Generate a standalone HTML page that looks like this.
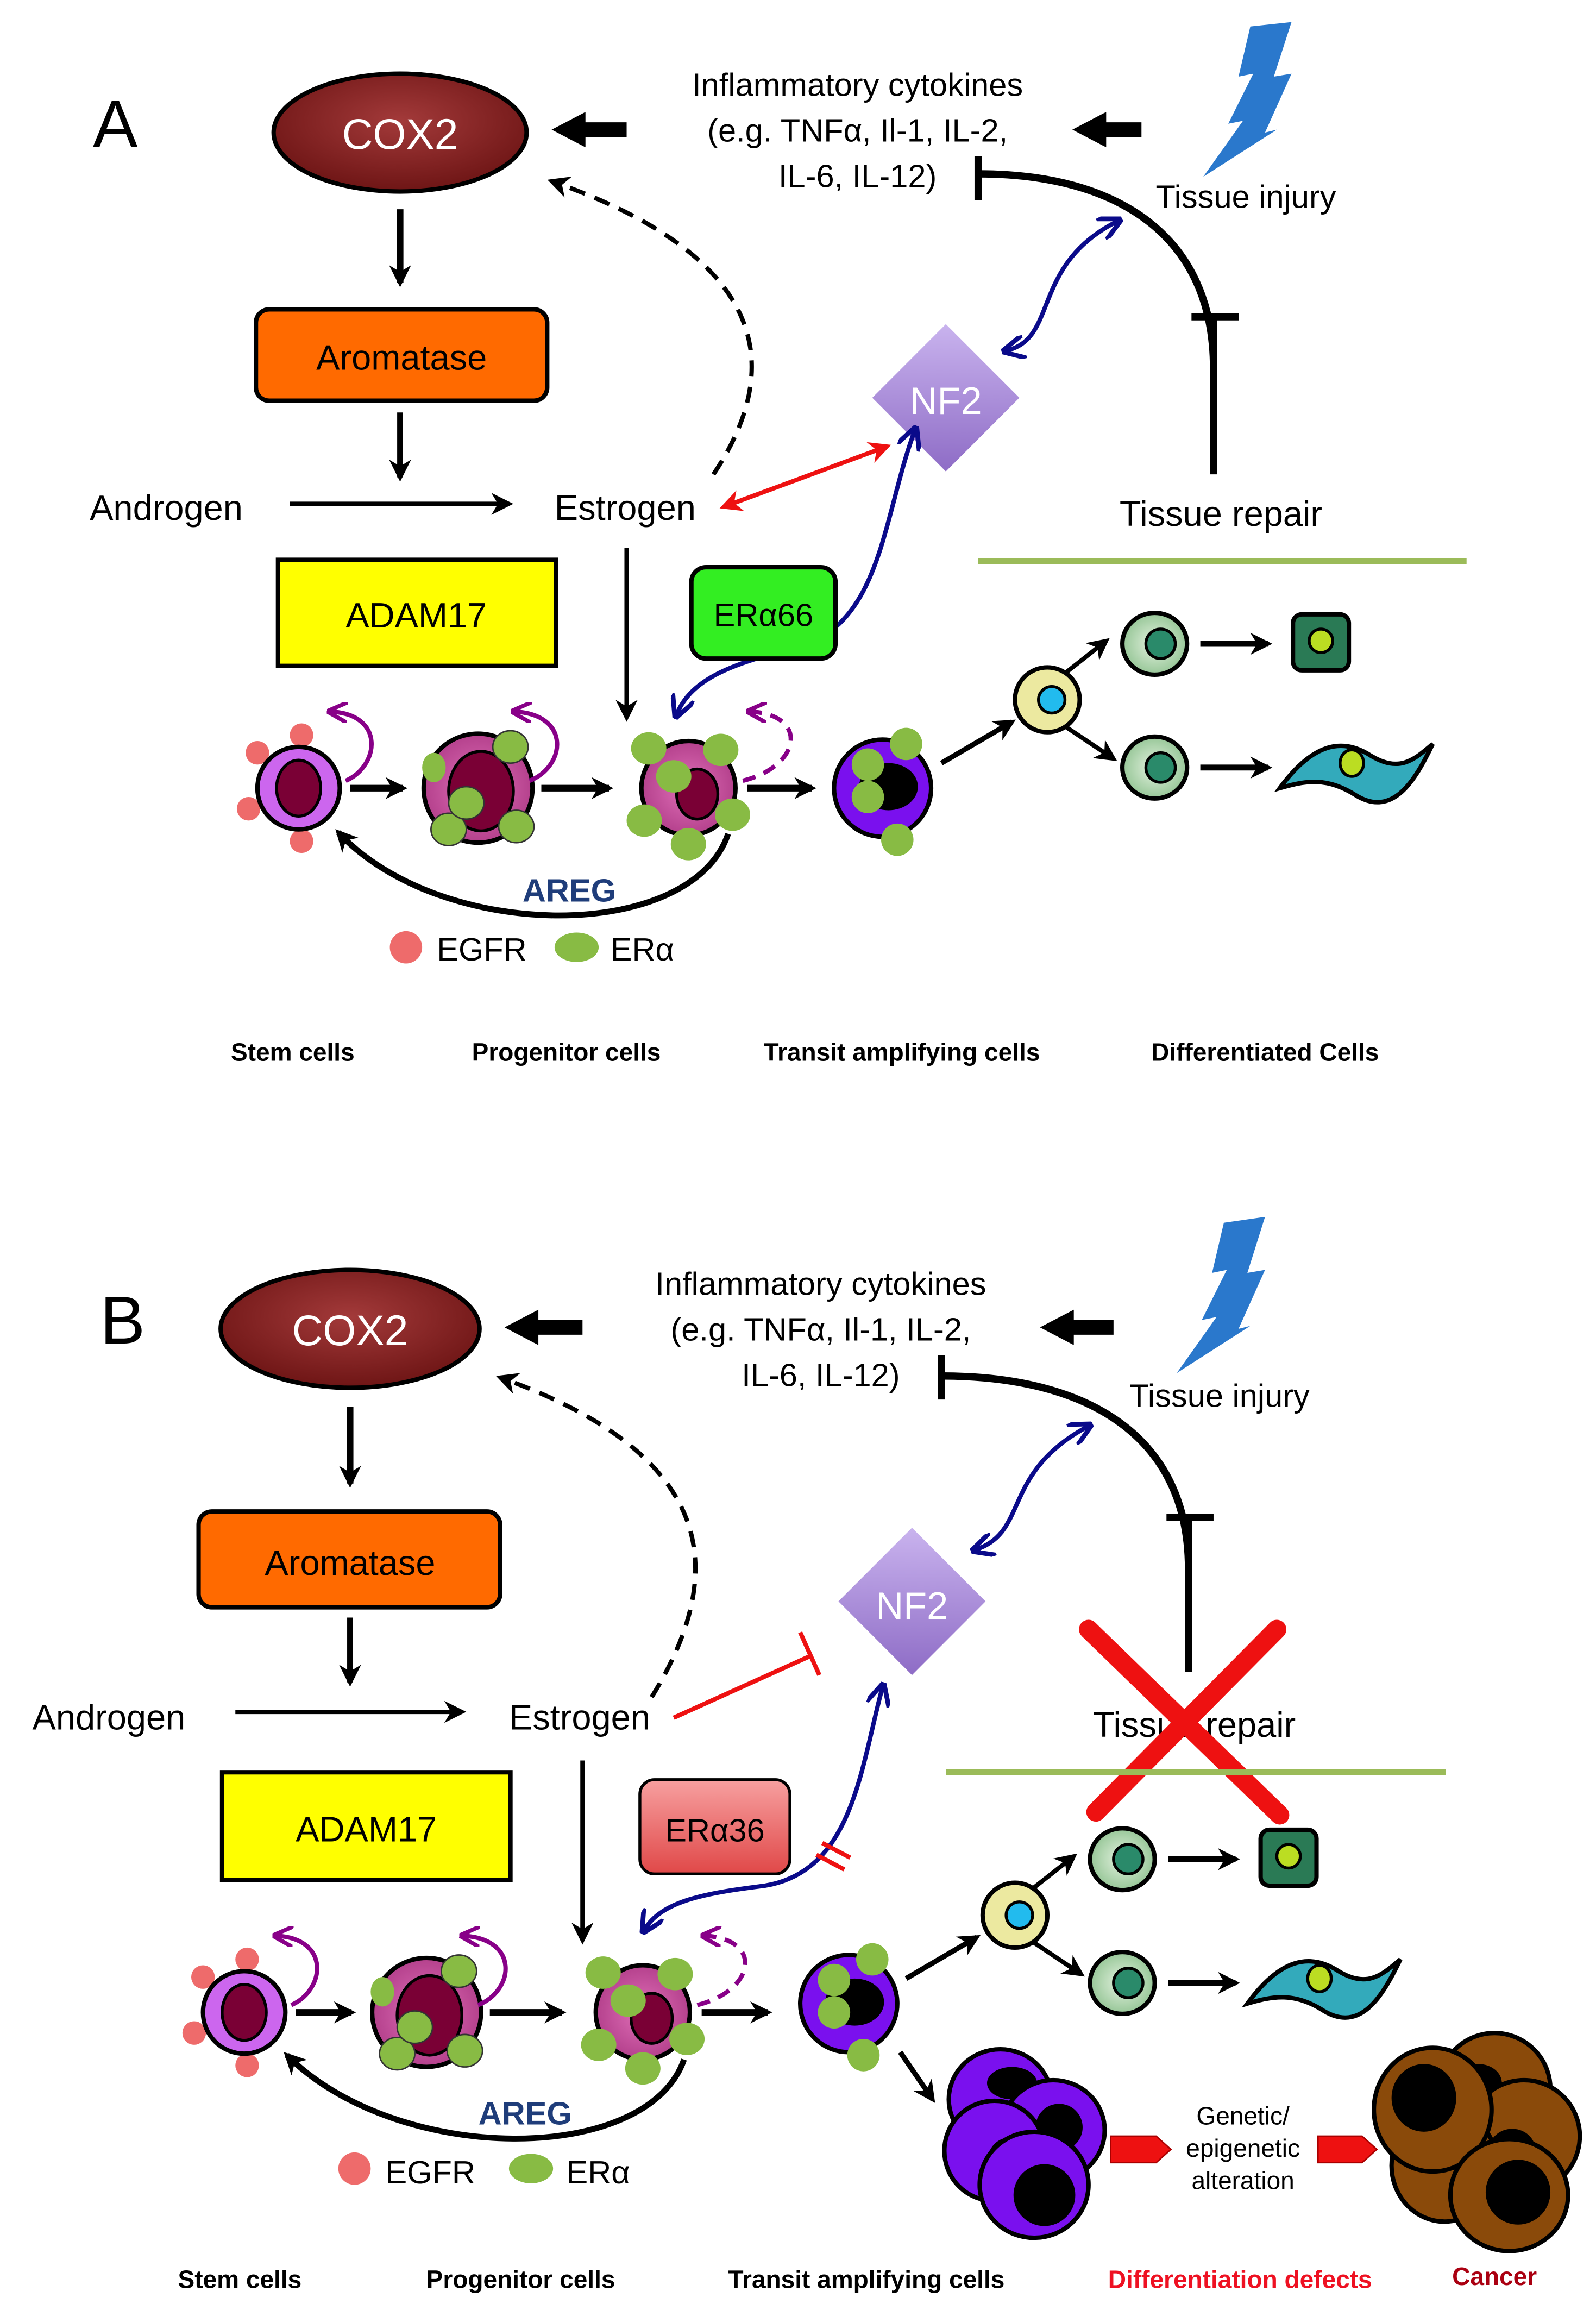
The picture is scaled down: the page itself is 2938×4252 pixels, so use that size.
<!DOCTYPE html>
<html><head><meta charset="utf-8">
<style>
html,body{margin:0;padding:0;background:#fff;}
svg{display:block;}
text{font-family:"Liberation Sans Narrow","Liberation Sans",sans-serif;}
</style></head><body>
<svg width="2938" height="4252" viewBox="0 0 1085 1568" preserveAspectRatio="none" xmlns="http://www.w3.org/2000/svg">
<defs>
<radialGradient id="gcox" cx="50%" cy="40%" r="60%"><stop offset="0" stop-color="#a33a3a"/><stop offset="1" stop-color="#6e1515"/></radialGradient>
<linearGradient id="gnf" x1="0" y1="0" x2="0" y2="1"><stop offset="0" stop-color="#c9b3ee"/><stop offset="1" stop-color="#8e6cc6"/></linearGradient>
<linearGradient id="g36" x1="0" y1="0" x2="0" y2="1"><stop offset="0" stop-color="#f7a0a0"/><stop offset="1" stop-color="#e04848"/></linearGradient>
<radialGradient id="gpink" cx="50%" cy="50%" r="55%"><stop offset="0" stop-color="#e070b8"/><stop offset="1" stop-color="#b03c88"/></radialGradient>
<radialGradient id="gmint" cx="50%" cy="50%" r="55%"><stop offset="0" stop-color="#e4f2e0"/><stop offset="1" stop-color="#8fc290"/></radialGradient>
<marker id="ab" viewBox="0 0 10 10" refX="8" refY="5" markerWidth="15" markerHeight="15" markerUnits="userSpaceOnUse" orient="auto-start-reverse"><path d="M0,0 L10,5 L0,10 L3,5z" fill="#000"/></marker>
<marker id="abl" viewBox="0 0 10 10" refX="8" refY="5" markerWidth="16" markerHeight="16" markerUnits="userSpaceOnUse" orient="auto-start-reverse"><path d="M0,0 L10,5 L0,10" fill="none" stroke="#0a0a8a" stroke-width="2"/></marker>
<marker id="ar" viewBox="0 0 10 10" refX="8" refY="5" markerWidth="15" markerHeight="15" markerUnits="userSpaceOnUse" orient="auto-start-reverse"><path d="M0,0 L10,5 L0,10 L3,5z" fill="#ee1111"/></marker>
<marker id="ap" viewBox="0 0 10 10" refX="8" refY="5" markerWidth="14" markerHeight="14" markerUnits="userSpaceOnUse" orient="auto-start-reverse"><path d="M0,0 L10,5 L0,10" fill="none" stroke="#880088" stroke-width="2"/></marker>

<g id="stem">
 <circle cx="2" cy="-36" r="8" fill="#ee6b6b"/><circle cx="-28" cy="-24" r="8" fill="#ee6b6b"/>
 <circle cx="-34" cy="14" r="8" fill="#ee6b6b"/><circle cx="2" cy="36" r="8" fill="#ee6b6b"/>
 <circle r="28" fill="#cc66ee" stroke="#000" stroke-width="3"/>
 <ellipse rx="15" ry="19" fill="#7a0035" stroke="#000" stroke-width="2"/>
</g>
<g id="prog">
 <circle r="37" fill="url(#gpink)" stroke="#000" stroke-width="3"/>
 <ellipse cx="2" cy="2" rx="22" ry="27" fill="#7a0035" stroke="#000" stroke-width="2"/>
 <ellipse cx="-30" cy="-14" rx="8" ry="10" fill="#88bb44"/>
 <ellipse cx="22" cy="-28" rx="12" ry="11" fill="#88bb44" stroke="#333" stroke-width="1"/>
 <ellipse cx="-20" cy="28" rx="12" ry="11" fill="#88bb44" stroke="#333" stroke-width="1"/>
 <ellipse cx="26" cy="26" rx="12" ry="11" fill="#88bb44" stroke="#333" stroke-width="1"/>
 <ellipse cx="-8" cy="10" rx="12" ry="11" fill="#88bb44" stroke="#333" stroke-width="1"/>
</g>
<g id="ta">
 <circle r="32" fill="url(#gpink)" stroke="#000" stroke-width="3"/>
 <ellipse cx="6" cy="4" rx="14" ry="17" fill="#7a0035" stroke="#000" stroke-width="2"/>
 <ellipse cx="-27" cy="-27" rx="12" ry="11" fill="#88bb44"/><ellipse cx="22" cy="-26" rx="12" ry="11" fill="#88bb44"/>
 <ellipse cx="-30" cy="22" rx="12" ry="11" fill="#88bb44"/><ellipse cx="30" cy="18" rx="12" ry="11" fill="#88bb44"/>
 <ellipse cx="0" cy="38" rx="12" ry="11" fill="#88bb44"/><ellipse cx="-10" cy="-8" rx="12" ry="11" fill="#88bb44"/>
</g>
<g id="purp">
 <circle r="33" fill="#7a10ee" stroke="#000" stroke-width="3"/>
 <ellipse cx="4" cy="-1" rx="20" ry="16" fill="#000"/>
 <ellipse cx="-10" cy="-16" rx="11" ry="11" fill="#88bb44"/><ellipse cx="16" cy="-30" rx="11" ry="11" fill="#88bb44"/>
 <ellipse cx="-10" cy="6" rx="11" ry="11" fill="#88bb44"/><ellipse cx="10" cy="35" rx="11" ry="11" fill="#88bb44"/>
</g>
<g id="diff">
 <circle cx="0" cy="0" r="22" fill="#ece9a0" stroke="#000" stroke-width="3"/>
 <circle cx="3" cy="0" r="9" fill="#22bbee" stroke="#000" stroke-width="2"/>
 <path d="M12,-18 L40,-40" stroke="#000" stroke-width="3" marker-end="url(#ab)"/>
 <path d="M12,18 L45,40" stroke="#000" stroke-width="3" marker-end="url(#ab)"/>
 <ellipse cx="73" cy="-38" rx="22" ry="21" fill="url(#gmint)" stroke="#000" stroke-width="3"/>
 <circle cx="77" cy="-38" r="10" fill="#2a8a6a" stroke="#000" stroke-width="2"/>
 <ellipse cx="73" cy="46" rx="22" ry="21" fill="url(#gmint)" stroke="#000" stroke-width="3"/>
 <circle cx="77" cy="46" r="10" fill="#2a8a6a" stroke="#000" stroke-width="2"/>
 <path d="M104,-38 L150,-38" stroke="#000" stroke-width="4" marker-end="url(#ab)"/>
 <path d="M104,46 L150,46" stroke="#000" stroke-width="4" marker-end="url(#ab)"/>
 <rect x="167" y="-58" width="38" height="38" rx="6" fill="#2a7a55" stroke="#000" stroke-width="3"/>
 <circle cx="186" cy="-40" r="8" fill="#bbdd22" stroke="#000" stroke-width="2"/>
 <path d="M158,60 C180,30 200,25 220,38 C240,50 250,40 262,30 C250,55 235,80 210,65 C190,52 175,55 158,60z" fill="#33aabb" stroke="#000" stroke-width="3"/>
 <ellipse cx="207" cy="43" rx="8" ry="9" fill="#bbdd22" stroke="#000" stroke-width="2"/>
</g>
</defs>

<rect width="1085" height="1568" fill="#fff"/>

<!-- ============ PANEL A ============ -->
<text x="63" y="100" font-size="46">A</text>
<ellipse cx="272" cy="90" rx="86" ry="40" fill="url(#gcox)" stroke="#000" stroke-width="3"/>
<text x="272" y="101" font-size="29" fill="#fff" text-anchor="middle">COX2</text>
<path d="M398,83 L426,83 L426,93 L398,93 L398,100 L375,88 L398,76z" fill="#000"/>
<text x="583" y="65" font-size="22" text-anchor="middle">Inflammatory cytokines</text>
<text x="583" y="96" font-size="22" text-anchor="middle">(e.g. TNFα, Il-1, IL-2,</text>
<text x="583" y="127" font-size="22" text-anchor="middle">IL-6, IL-12)</text>
<path d="M752,83 L776,83 L776,93 L752,93 L752,100 L729,88 L752,76z" fill="#000"/>
<path d="M850,18 L878,15 L866,52 L878,50 L860,90 L868,88 L818,120 L845,82 L835,84 L852,50 L842,52z" fill="#2a78cc"/>
<text x="847" y="141" font-size="22" text-anchor="middle">Tissue injury</text>
<path d="M665,118 C760,118 825,160 825,250 L825,322" fill="none" stroke="#000" stroke-width="5"/>
<path d="M665,106 L665,136" stroke="#000" stroke-width="5"/>
<path d="M810,215 L842,215" stroke="#000" stroke-width="5"/>
<path d="M825,215 L825,250" stroke="#000" stroke-width="5"/>
<text x="830" y="357" font-size="24" text-anchor="middle">Tissue repair</text>
<path d="M485,322 C540,240 510,170 375,123" fill="none" stroke="#000" stroke-width="3" stroke-dasharray="11,7" marker-end="url(#ab)"/>
<path d="M272,142 L272,192" stroke="#000" stroke-width="4.5" marker-end="url(#ab)"/>
<rect x="174" y="210" width="198" height="62" rx="9" fill="#ff6a00" stroke="#000" stroke-width="3"/>
<text x="273" y="251" font-size="24" text-anchor="middle">Aromatase</text>
<path d="M272,280 L272,324" stroke="#000" stroke-width="4" marker-end="url(#ab)"/>
<text x="113" y="353" font-size="24" text-anchor="middle">Androgen</text>
<path d="M197,342 L346,342" stroke="#000" stroke-width="3" marker-end="url(#ab)"/>
<text x="425" y="353" font-size="24" text-anchor="middle">Estrogen</text>
<path d="M492,344 L603,303" stroke="#ee1111" stroke-width="3" marker-end="url(#ar)" marker-start="url(#ar)"/>
<path d="M643,220 L693,270 L643,320 L593,270z" fill="url(#gnf)"/>
<text x="643" y="281" font-size="26" fill="#fff" text-anchor="middle">NF2</text>
<path d="M684,238 C720,230 700,180 760,150" fill="none" stroke="#0a0a8a" stroke-width="3" marker-start="url(#abl)" marker-end="url(#abl)"/>
<path d="M460,485 C470,460 500,450 540,440 C600,425 600,350 622,292" fill="none" stroke="#0a0a8a" stroke-width="3" marker-start="url(#abl)" marker-end="url(#abl)"/>
<path d="M665,381 L997,381" stroke="#9bbb59" stroke-width="4"/>
<rect x="189" y="380" width="189" height="72" fill="#ffff00" stroke="#000" stroke-width="3"/>
<text x="283" y="426" font-size="24" text-anchor="middle">ADAM17</text>
<rect x="470" y="385" width="98" height="62" rx="10" fill="#33ee22" stroke="#000" stroke-width="3"/>
<text x="519" y="425" font-size="22" text-anchor="middle" font-family="Liberation Serif,serif">ERα66</text>
<path d="M426,372 L426,487" stroke="#000" stroke-width="3" marker-end="url(#ab)"/>
<use href="#stem" x="203" y="535"/>
<use href="#prog" x="325" y="535"/>
<use href="#ta" x="468" y="535"/>
<use href="#purp" x="600" y="535"/>
<use href="#diff" x="712" y="475"/>
<path d="M640,518 L688,490" stroke="#000" stroke-width="3.5" marker-end="url(#ab)"/>
<path d="M238,535 L274,535" stroke="#000" stroke-width="4.5" marker-end="url(#ab)"/>
<path d="M368,535 L414,535" stroke="#000" stroke-width="4.5" marker-end="url(#ab)"/>
<path d="M508,535 L552,535" stroke="#000" stroke-width="4.5" marker-end="url(#ab)"/>
<path d="M235,530 C258,520 262,485 225,483" fill="none" stroke="#880088" stroke-width="3" marker-end="url(#ap)"/>
<path d="M360,530 C385,520 388,485 350,483" fill="none" stroke="#880088" stroke-width="3" marker-end="url(#ap)"/>
<path d="M505,530 C545,520 550,485 510,483" fill="none" stroke="#880088" stroke-width="3" stroke-dasharray="9,6" marker-end="url(#ap)"/>
<path d="M495,566 C470,640 300,640 230,565" fill="none" stroke="#000" stroke-width="4" marker-end="url(#ab)"/>
<text x="387" y="612" font-size="22" font-weight="bold" fill="#1f3d7a" text-anchor="middle">AREG</text>
<circle cx="276" cy="643" r="11" fill="#ee6b6b"/>
<text x="297" y="652" font-size="22">EGFR</text>
<ellipse cx="392" cy="643" rx="15" ry="10" fill="#88bb44"/>
<text x="415" y="652" font-size="22">ERα</text>
<g font-size="17" font-weight="bold" text-anchor="middle">
<text x="199" y="720">Stem cells</text>
<text x="385" y="720">Progenitor cells</text>
<text x="613" y="720">Transit amplifying cells</text>
<text x="860" y="720">Differentiated Cells</text>
</g>

<!-- ============ PANEL B ============ -->
<text x="68" y="912" font-size="46">B</text>
<ellipse cx="238" cy="902" rx="88" ry="40" fill="url(#gcox)" stroke="#000" stroke-width="3"/>
<text x="238" y="913" font-size="29" fill="#fff" text-anchor="middle">COX2</text>
<path d="M366,896 L396,896 L396,906 L366,906 L366,913 L343,901 L366,889z" fill="#000"/>
<text x="558" y="879" font-size="22" text-anchor="middle">Inflammatory cytokines</text>
<text x="558" y="910" font-size="22" text-anchor="middle">(e.g. TNFα, Il-1, IL-2,</text>
<text x="558" y="941" font-size="22" text-anchor="middle">IL-6, IL-12)</text>
<path d="M730,896 L757,896 L757,906 L730,906 L730,913 L707,901 L730,889z" fill="#000"/>
<path d="M832,830 L860,826 L848,864 L860,862 L842,902 L850,900 L800,932 L827,894 L817,896 L834,862 L824,864z" fill="#2a78cc"/>
<text x="829" y="955" font-size="22" text-anchor="middle">Tissue injury</text>
<path d="M640,934 C740,934 808,975 808,1065 L808,1135" fill="none" stroke="#000" stroke-width="5"/>
<path d="M640,920 L640,950" stroke="#000" stroke-width="5"/>
<path d="M793,1030 L825,1030" stroke="#000" stroke-width="5"/>
<path d="M808,1030 L808,1065" stroke="#000" stroke-width="5"/>
<text x="812" y="1179" font-size="24" text-anchor="middle">Tissue repair</text>
<path d="M740,1106 L870,1232 M868,1106 L745,1230" stroke="#ee1111" stroke-width="13" stroke-linecap="round"/>
<path d="M443,1152 C500,1060 480,985 340,935" fill="none" stroke="#000" stroke-width="3" stroke-dasharray="11,7" marker-end="url(#ab)"/>
<path d="M238,955 L238,1007" stroke="#000" stroke-width="4.5" marker-end="url(#ab)"/>
<rect x="135" y="1026" width="205" height="65" rx="9" fill="#ff6a00" stroke="#000" stroke-width="3"/>
<text x="238" y="1069" font-size="24" text-anchor="middle">Aromatase</text>
<path d="M238,1098 L238,1142" stroke="#000" stroke-width="4" marker-end="url(#ab)"/>
<text x="74" y="1174" font-size="24" text-anchor="middle">Androgen</text>
<path d="M160,1162 L314,1162" stroke="#000" stroke-width="3" marker-end="url(#ab)"/>
<text x="394" y="1174" font-size="24" text-anchor="middle">Estrogen</text>
<path d="M458,1166 L551,1124" stroke="#ee1111" stroke-width="3"/>
<path d="M544,1108 L557,1137" stroke="#ee1111" stroke-width="3"/>
<path d="M620,1037 L670,1087 L620,1137 L570,1087z" fill="url(#gnf)"/>
<text x="620" y="1099" font-size="26" fill="#fff" text-anchor="middle">NF2</text>
<path d="M663,1052 C700,1040 680,1000 740,968" fill="none" stroke="#0a0a8a" stroke-width="3" marker-start="url(#abl)" marker-end="url(#abl)"/>
<path d="M438,1310 C450,1290 480,1285 520,1280 C580,1270 585,1200 600,1145" fill="none" stroke="#0a0a8a" stroke-width="3" marker-start="url(#abl)" marker-end="url(#abl)"/>
<path d="M559,1251 L578,1261 M555,1259 L574,1269" stroke="#ee1111" stroke-width="3"/>
<path d="M643,1203 L983,1203" stroke="#9bbb59" stroke-width="4"/>
<rect x="151" y="1203" width="196" height="73" fill="#ffff00" stroke="#000" stroke-width="3"/>
<text x="249" y="1250" font-size="24" text-anchor="middle">ADAM17</text>
<rect x="435" y="1208" width="102" height="64" rx="10" fill="url(#g36)" stroke="#000" stroke-width="2"/>
<text x="486" y="1250" font-size="22" text-anchor="middle" font-family="Liberation Serif,serif">ERα36</text>
<path d="M396,1195 L396,1317" stroke="#000" stroke-width="3" marker-end="url(#ab)"/>
<use href="#stem" x="166" y="1366"/>
<use href="#prog" x="290" y="1366"/>
<use href="#ta" x="437" y="1366"/>
<use href="#purp" x="577" y="1360"/>
<use href="#diff" x="690" y="1300"/>
<path d="M616,1343 L664,1315" stroke="#000" stroke-width="3.5" marker-end="url(#ab)"/>
<path d="M201,1366 L239,1366" stroke="#000" stroke-width="4.5" marker-end="url(#ab)"/>
<path d="M333,1366 L382,1366" stroke="#000" stroke-width="4.5" marker-end="url(#ab)"/>
<path d="M477,1366 L522,1366" stroke="#000" stroke-width="4.5" marker-end="url(#ab)"/>
<path d="M198,1361 C221,1351 225,1316 188,1314" fill="none" stroke="#880088" stroke-width="3" marker-end="url(#ap)"/>
<path d="M325,1361 C350,1351 353,1316 315,1314" fill="none" stroke="#880088" stroke-width="3" marker-end="url(#ap)"/>
<path d="M474,1361 C514,1351 519,1316 479,1314" fill="none" stroke="#880088" stroke-width="3" stroke-dasharray="9,6" marker-end="url(#ap)"/>
<path d="M465,1398 C440,1470 270,1470 195,1395" fill="none" stroke="#000" stroke-width="4" marker-end="url(#ab)"/>
<text x="357" y="1442" font-size="22" font-weight="bold" fill="#1f3d7a" text-anchor="middle">AREG</text>
<circle cx="241" cy="1472" r="11" fill="#ee6b6b"/>
<text x="262" y="1482" font-size="22">EGFR</text>
<ellipse cx="361" cy="1472" rx="15" ry="10" fill="#88bb44"/>
<text x="385" y="1482" font-size="22">ERα</text>
<!-- defect cluster -->
<path d="M612,1393 L634,1425" stroke="#000" stroke-width="3.5" marker-end="url(#ab)"/>
<g stroke="#000" stroke-width="3">
<ellipse cx="680" cy="1425" rx="35" ry="34" fill="#7a10ee"/><ellipse cx="688" cy="1414" rx="17" ry="11" fill="#000" stroke="none"/>
<ellipse cx="716" cy="1446" rx="35" ry="34" fill="#7a10ee"/><ellipse cx="720" cy="1444" rx="16" ry="16" fill="#000" stroke="none"/>
<ellipse cx="676" cy="1460" rx="34" ry="34" fill="#7a10ee"/><ellipse cx="686" cy="1468" rx="15" ry="17" fill="#000" stroke="none"/>
<ellipse cx="703" cy="1483" rx="37" ry="36" fill="#7a10ee"/><ellipse cx="710" cy="1490" rx="21" ry="21" fill="#000" stroke="none"/>
</g>
<path d="M755,1450 L786,1450 L796,1459 L786,1468 L755,1468z" fill="#ee1111" stroke="#aa0000"/>
<path d="M896,1450 L926,1450 L936,1459 L926,1468 L896,1468z" fill="#ee1111" stroke="#aa0000"/>
<g font-size="17" text-anchor="middle">
<text x="845" y="1442">Genetic/</text>
<text x="845" y="1464">epigenetic</text>
<text x="845" y="1486">alteration</text>
</g>
<g stroke="#000" stroke-width="3" fill="#8a4a0a">
<ellipse cx="1016" cy="1418" rx="38" ry="38"/><ellipse cx="1005" cy="1414" rx="16" ry="13" fill="#000" stroke="none"/>
<ellipse cx="1036" cy="1450" rx="38" ry="38"/><ellipse cx="1028" cy="1460" rx="16" ry="15" fill="#000" stroke="none"/>
<ellipse cx="982" cy="1470" rx="36" ry="38"/>
<ellipse cx="974" cy="1432" rx="40" ry="42"/><ellipse cx="968" cy="1424" rx="22" ry="23" fill="#000" stroke="none"/>
<ellipse cx="1026" cy="1490" rx="40" ry="38"/><ellipse cx="1032" cy="1488" rx="22" ry="22" fill="#000" stroke="none"/>
</g>
<g font-size="17" font-weight="bold" text-anchor="middle">
<text x="163" y="1553">Stem cells</text>
<text x="354" y="1553">Progenitor cells</text>
<text x="589" y="1553">Transit amplifying cells</text>
<text x="843" y="1553" fill="#ee1122">Differentiation defects</text>
<text x="1016" y="1551" fill="#aa0011">Cancer</text>
</g>
</svg>
</body></html>
